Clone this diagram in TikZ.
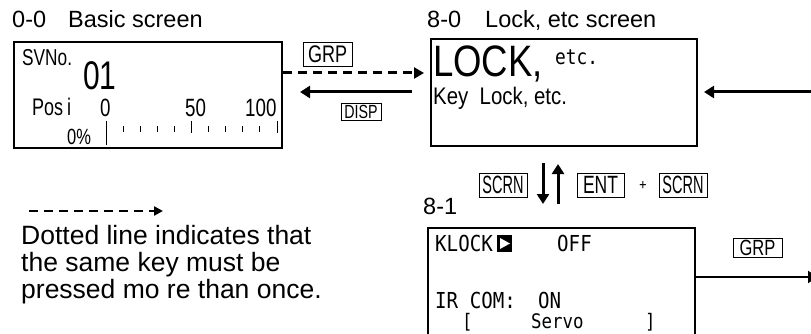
\documentclass[tikz,border=0pt]{standalone}
\usepackage{fontspec}
\setmainfont{Liberation Sans}
\newfontfamily\titlef{Liberation Sans}
\newfontfamily\legf{Liberation Sans}
\newfontfamily\gth[FakeStretch=0.75]{Liberation Sans}
\newfontfamily\gthe[FakeStretch=0.7]{Liberation Sans}
\newfontfamily\gthn[FakeStretch=0.58]{Liberation Sans}
\newfontfamily\lockf[FakeStretch=0.83]{Liberation Sans}
\newfontfamily\keylf[FakeStretch=0.85]{Liberation Sans}
\newfontfamily\monoB[FakeStretch=0.87]{DejaVu Sans Mono}
\newfontfamily\monoC[FakeStretch=0.85]{DejaVu Sans Mono}
\usetikzlibrary{arrows.meta}
\newcommand\fsz[1]{\fontsize{#1}{#1}\selectfont}
\tikzset{
  screenbox/.style={draw, line width=2pt, inner sep=0pt},
  txt/.style={anchor=base west, inner sep=0pt},
  keybox/.style={draw, line width=0.9pt, inner sep=0pt},
  solarr/.style={line width=3pt, -{Triangle[length=10pt,width=12pt]}},
  dasharr/.style={line width=3pt, dash pattern=on 9pt off 6pt, -{Triangle[length=10pt,width=11pt]}},
  legarr/.style={line width=2.5pt, dash pattern=on 9pt off 6pt, -{Triangle[length=9pt,width=9pt]}},
  tick/.style={line width=1pt},
  ttl/.style={txt, font=\titlef\fsz{23.5}},
  leg/.style={txt, font=\legf\fsz{26.5}},
  scr3/.style={txt, font=\monoB\fsz{22}},
  scr3b/.style={txt, font=\monoB\fsz{20}},
}
\begin{document}
\begin{tikzpicture}[x=1pt,y=-1pt]
\useasboundingbox (0,0) rectangle (811,334);
\clip (0,0) rectangle (811,334);

% titles
\node[ttl] (t0) at (12,28) {0-0};
\node[ttl] (t0b) at (68,28) {Basic screen};
\node[ttl] (t8) at (427,28) {8-0};
\node[ttl] (t8b) at (485,28) {Lock, etc screen};
\node[ttl] (t81) at (423,214) {8-1};

% screens
\node[screenbox, minimum width=268pt, minimum height=106pt] (b1) at (148,95) {};
\node[screenbox, minimum width=266pt, minimum height=107pt] (b2) at (564,92.5) {};
\node[screenbox, minimum width=267pt, minimum height=130pt] (b3) at (561.5,293) {};

% box 1 content
\node[txt, font=\gth\fsz{23}] (sv) at (22,66) {SVNo.};
\node[txt, font=\gth\fsz{40}] (n01) at (83,90) {01};
\node[txt, font=\gth\fsz{24}] (posi) at (32,116) {Pos\hspace{4pt}i};
\node[txt, font=\gth\fsz{25}] (s0) at (100,117) {0};
\node[txt, font=\gth\fsz{25}] (s50) at (185,117) {50};
\node[txt, font=\gth\fsz{25}] (s100) at (245,117) {100};
\node[txt, font=\gth\fsz{22}] (pct) at (67,144) {0\%};
\draw[tick] (106,121) -- (106,145);
\draw[tick] (191,121) -- (191,133);
\draw[tick] (277,121) -- (277,133);
\foreach \xx in {123,140,157,174,208,225,242,259} \draw[tick] (\xx,126) -- (\xx,132);

% box 2 content
\node[txt, font=\lockf\fsz{44}] (lock) at (433,77) {LOCK,};
\node[txt, font=\monoC\fsz{21}] (etc) at (555,65) {etc.};
\node[txt, font=\keylf\fsz{24}] (kl) at (433,105) {Key\ \ Lock, etc.};

% box 3 content
\node[scr3] (klk) at (435,251) {KLOCK};
\fill (497,235) rectangle (512,252);
\fill[white] (500,238) -- (510,243.5) -- (500,249) -- cycle;
\node[scr3] (off) at (557,251) {OFF};
\node[scr3] (ir) at (435,308) {IR COM:};
\node[scr3] (on) at (538,308) {ON};
\node[scr3b] (lb) at (462,328) {[};
\node[scr3b] (sv2) at (531,328) {Servo};
\node[scr3b] (rb) at (645,328) {]};

% keys
\node[keybox, minimum width=49pt, minimum height=24pt, font=\gth\fsz{24}] (grp1) at (327.5,54) {GRP};
\node[keybox, minimum width=40pt, minimum height=17pt, font=\gth\fsz{19}] (disp) at (361,111.5) {DISP};
\node[keybox, minimum width=48pt, minimum height=24pt, font=\gthn\fsz{25}] (scrn1) at (503,185) {SCRN};
\node[keybox, minimum width=47pt, minimum height=24pt, font=\gthe\fsz{25}] (ent) at (600.5,185) {ENT};
\node[inner sep=0pt, font=\monoC\fsz{14}] (plus) at (643,185) {+};
\node[keybox, minimum width=48pt, minimum height=24pt, font=\gthn\fsz{25}] (scrn2) at (683,185) {SCRN};
\node[keybox, minimum width=49pt, minimum height=19pt, font=\gth\fsz{22}] (grp3) at (757.5,247.5) {GRP};

% connectors
\coordinate (dY) at (0,73);
\coordinate (sY) at (0,92);
\coordinate (rE) at (811,92);
\coordinate (v1) at (543,0);
\coordinate (v2) at (558,0);
\coordinate (gE) at (818,277);
\draw[dasharr, shorten >=6pt] (b1.east |- dY) -- (b2.west |- dY);
\draw[solarr, shorten <=18pt, shorten >=17pt] (b2.west |- sY) -- (b1.east |- sY);
\draw[solarr, shorten >=6pt] (rE) -- (b2.east |- rE);
\draw[solarr, shorten <=16pt, shorten >=23pt] (b2.south -| v1) -- (b3.north -| v1);
\draw[solarr, shorten <=23pt, shorten >=17pt] (b3.north -| v2) -- (b2.south -| v2);
\draw[line width=2pt, -{Triangle[length=10pt,width=12pt]}] (b3.east |- gE) -- (gE);

% legend
\coordinate (la) at (29,211);
\coordinate (lz) at (163,211);
\draw[legarr] (la) -- (lz);
\node[leg] (l1) at (21,244) {Dotted line indicates that};
\node[leg] (l2) at (21,271) {the same key must be};
\node[leg] (l3) at (21,298) {pressed mo re than once.};
\end{tikzpicture}
\end{document}
